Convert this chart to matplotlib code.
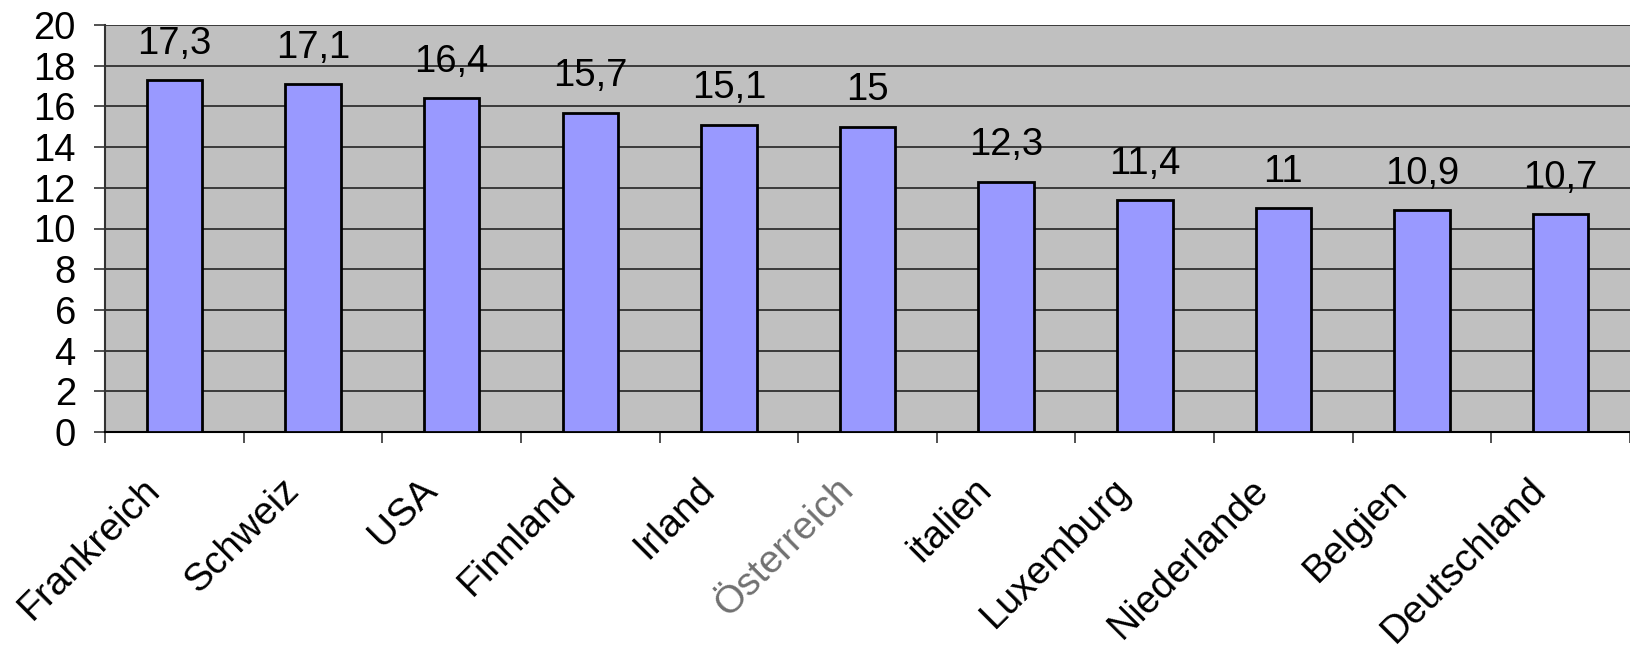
import matplotlib
matplotlib.use("Agg")
import matplotlib.pyplot as plt
import matplotlib.transforms as mtransforms
import numpy as np

countries = ["Frankreich", "Schweiz", "USA", "Finnland", "Irland", "Österreich",
             "italien", "Luxemburg", "Niederlande", "Belgien", "Deutschland"]
values = [17.3, 17.1, 16.4, 15.7, 15.1, 15.0, 12.3, 11.4, 11.0, 10.9, 10.7]
value_labels = ["17,3", "17,1", "16,4", "15,7", "15,1", "15", "12,3", "11,4", "11", "10,9", "10,7"]
yticks = [0, 2, 4, 6, 8, 10, 12, 14, 16, 18, 20]

plt.rcParams['font.family'] = ['Liberation Sans', 'DejaVu Sans']

W, H = 1630, 646
fig = plt.figure(figsize=(W / 100, H / 100), dpi=100)
left_px, right_px, top_px, bot_px = 105, 1630, 25, 432
ax = fig.add_axes([left_px / W, 1 - bot_px / H, (right_px - left_px) / W, (bot_px - top_px) / H])

cat_w = 139.3
n = len(countries)
x = np.arange(n)
ax.set_facecolor("#c0c0c0")
ax.set_xlim(-0.5, -0.5 + (right_px - left_px) / cat_w)
ax.set_ylim(0, 20)

ax.set_axisbelow(True)
ax.yaxis.grid(True, color="#3a3a3a", linewidth=1.4)
ax.set_yticks(yticks)
ax.set_yticklabels([str(v) for v in yticks], fontsize=27.5)
ax.tick_params(axis='y', length=8, width=1.2, color="#333333", pad=13, direction='out')

bars = ax.bar(x, values, width=0.4, color="#9999ff", edgecolor="black", linewidth=2, zorder=3)

for xi, v, lab in zip(x, values, value_labels):
    ax.annotate(lab, (xi, v), xytext=(0, 19), textcoords="offset points",
                ha="center", va="baseline", fontsize=27.5)

# category boundary ticks
ax.set_xticks(np.arange(-0.5, n, 1.0))
ax.set_xticklabels([])
ax.tick_params(axis='x', which='major', length=8, width=1.2, color="#333333", direction='out')
ax.set_xticks(x, minor=True)
ax.set_xticklabels(countries, minor=True, rotation=45, ha="right", va="center",
                   rotation_mode="anchor", fontsize=28)
ax.tick_params(axis='x', which='minor', length=0, pad=45)
shift = mtransforms.ScaledTranslation(-20 / 100, 10 / 100, fig.dpi_scale_trans)
for tick in ax.xaxis.get_minor_ticks():
    lbl = tick.label1
    lbl.set_transform(lbl.get_transform() + shift)
    if lbl.get_text() == "Österreich":
        lbl.set_color("#707070")

for s in ["top", "right"]:
    ax.spines[s].set_visible(False)
ax.spines["left"].set_color("#333333")
ax.spines["left"].set_linewidth(1.5)
ax.spines["bottom"].set_color("black")
ax.spines["bottom"].set_linewidth(1.5)

fig.savefig("out.png", dpi=100, facecolor="white")
